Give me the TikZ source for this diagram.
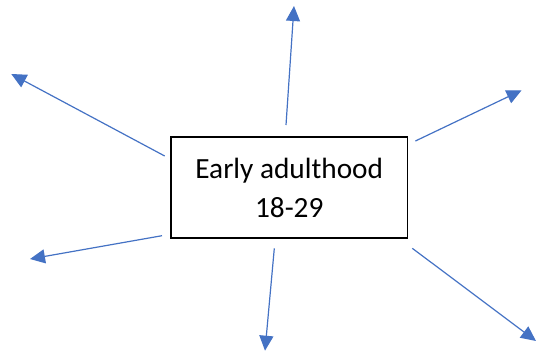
\documentclass[tikz,border=0pt]{standalone}
\usepackage{fontspec}
\setmainfont{Carlito}
\usetikzlibrary{arrows.meta}
\definecolor{officeblue}{HTML}{4472C4}
\tikzset{
  boxstyle/.style={draw=black, line width=1.8pt, minimum width=236.5pt, minimum height=101pt, inner sep=0pt, align=center, font=\fontsize{29.3pt}{39pt}\selectfont},
  ray/.style={draw=officeblue, line width=1.2pt, -{Triangle[length=15pt,width=14pt]}}
}
\begin{document}
\begin{tikzpicture}[x=1pt,y=-1pt]
\useasboundingbox (0,0) rectangle (537,356);
\node[boxstyle] (box) at (289.25,187.5) {Early adulthood\\18-29};
\coordinate (s1) at (286,125);   \coordinate (e1) at (294,6);
\coordinate (s2) at (164.7,156); \coordinate (e2) at (11.3,74);
\coordinate (s3) at (415.4,141); \coordinate (e3) at (521.6,90.3);
\coordinate (s4) at (162,235.7); \coordinate (e4) at (30,259);
\coordinate (s5) at (274.3,248.3); \coordinate (e5) at (265,350.7);
\coordinate (s6) at (412.3,248.3); \coordinate (e6) at (536,341);
\foreach \i in {1,...,6} { \draw[ray] (s\i) -- (e\i); }
\end{tikzpicture}
\end{document}
